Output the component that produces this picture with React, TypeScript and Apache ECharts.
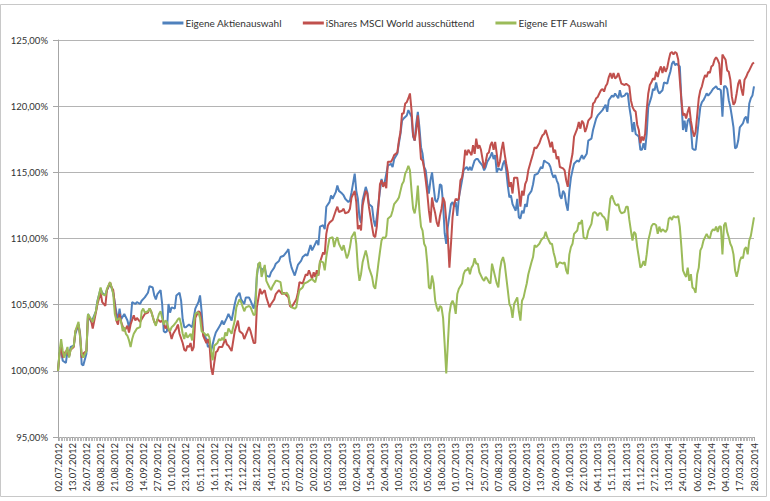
import React, { useEffect, useRef } from "react";
import * as echarts from "echarts";

const seriesNames = ["Eigene Aktienauswahl", "iShares MSCI World ausschüttend", "Eigene ETF Auswahl"];
const seriesColors = ["#4F81BD", "#C0504D", "#9BBB59"];

const xTickLabels = [
  "02.07.2012", "13.07.2012", "26.07.2012", "08.08.2012", "21.08.2012", "03.09.2012", "14.09.2012",
  "27.09.2012", "10.10.2012", "23.10.2012", "05.11.2012", "16.11.2012", "29.11.2012", "12.12.2012",
  "28.12.2012", "14.01.2013", "25.01.2013", "07.02.2013", "20.02.2013", "05.03.2013", "18.03.2013",
  "02.04.2013", "15.04.2013", "26.04.2013", "10.05.2013", "23.05.2013", "05.06.2013", "18.06.2013",
  "01.07.2013", "12.07.2013", "25.07.2013", "07.08.2013", "20.08.2013", "02.09.2013", "13.09.2013",
  "26.09.2013", "09.10.2013", "22.10.2013", "04.11.2013", "15.11.2013", "28.11.2013", "11.12.2013",
  "27.12.2013", "13.01.2014", "24.01.2014", "06.02.2014", "19.02.2014", "04.03.2014", "17.03.2014",
  "28.03.2014",
];

// [trading-day index, value in %]
const aktienauswahl: [number, number][] = [
  [0,100],[1,101.4],[2,101.5],[3,100.76],[5,100.6],[6,101.5],[7,101.06],[8,101.8],[10,101.9],[11,102.8],[13,103.5],[14,102.8],[15,100.5],[16,100.4],[18,101.3],[19,104.3],[21,103.7],[22,103.9],[24,104.5],[25,105.3],[27,106.2],[28,105.9],[30,105.7],[31,106.1],[33,106.6],[35,105.9],[37,104.4],[38,103.8],[39,104.7],[40,103.9],[42,104.3],[44,103.8],[45,103.3],[46,103.8],[47,105.2],[49,105.05],[50,105.2],[52,105.05],[53,105.3],[55,105.55],[57,105.9],[58,106.4],[60,106.3],[61,105.7],[62,105.4],[63,105.8],[65,106.1],[66,105.05],[67,103.0],[68,102.9],[69,103.0],[70,105.05],[71,104.4],[72,104.8],[74,104.7],[75,105.7],[77,105.9],[78,105.3],[79,103.9],[80,103.3],[81,103.3],[83,103.5],[85,103.3],[86,104.0],[87,104.7],[89,105.2],[90,105.7],[91,104.5],[92,102.8],[94,102.4],[95,101.8],[96,101.9],[97,101.5],[99,102.5],[100,102.9],[102,103.3],[103,103.5],[104,103.8],[105,103.5],[107,104.0],
  [108,104.3],[110,103.8],[112,105.05],[113,105.55],[115,105.9],[116,105.4],[118,105.05],[119,105.55],[121,105.55],[122,105.3],[124,104.7],[125,105.3],[126,107.1],[127,108.1],[129,107.6],[131,107.8],[132,107.2],[134,107.1],[135,107.45],[137,107.8],[138,108.1],[140,108.3],[141,108.6],[143,108.7],[145,109.0],[146,109.2],[147,108.3],[148,107.8],[150,107.2],[151,107.6],[152,108.0],[154,108.3],[155,108.6],[157,108.8],[158,108.7],[160,109.5],[161,109.1],[162,109.35],[164,109.85],[165,109.5],[166,110.9],[168,111.0],[169,110.7],[170,112.4],[172,112.75],[173,113.25],[174,113.0],[176,113.5],[177,114.0],[178,113.6],[180,113.4],[181,113.25],[182,113.0],[184,112.75],[185,112.9],[186,113.5],[188,114.9],[189,113.6],[190,113.0],[191,111.6],[192,111.2],[193,112.9],[195,113.9],[196,113.5],[197,112.6],[199,112.4],[200,111.4],[201,110.9],[202,111.6],[203,112.6],[204,113.6],[205,114.5],[206,114.0],[207,114.25],[209,115.5],[211,115.65],[212,115.4],[213,116.0],[215,116.4],[216,117.2],[217,117.9],[218,118.9],
  [219,119.07],[221,119.3],[222,119.7],[224,119.2],[225,117.7],[226,117.4],[227,118.7],[228,119.57],[229,118.4],[230,116.9],[231,116.4],[232,115.4],[233,115.15],[234,114.1],[235,113.4],[236,114.4],[237,115.0],[238,113.9],[239,112.9],[240,112.75],[241,113.1],[242,114.1],[243,114.0],[244,112.6],[245,110.4],[246,109.6],[247,110.9],[249,112.6],[250,112.75],[251,112.4],[252,112.75],[253,111.7],[254,113.1],[256,114.4],[257,115.15],[258,115.3],[259,115.4],[260,115.15],[261,115.4],[262,115.15],[264,115.9],[265,116.0],[266,116.0],[267,115.8],[269,115.5],[270,115.15],[271,115.4],[272,115.8],[274,116.2],[275,116.5],[276,116.0],[277,116.3],[278,115.0],[279,115.3],[281,115.15],[282,115.65],[283,115.9],[284,115.15],[285,114.0],[286,113.1],[287,113.25],[288,112.6],[290,112.1],[291,113.0],[292,111.6],[293,111.5],[294,112.1],[295,111.9],[296,112.6],[297,112.4],[298,113.25],[300,113.6],[301,114.1],[302,114.8],[304,114.9],[305,115.15],[306,115.4],[307,115.3],[308,115.9],[309,115.8],[311,115.65],[312,115.4],[313,114.9],[314,114.6],[315,114.8],[316,114.4],[317,114.1],[318,113.25],[319,113.0],[320,113.6],[321,113.4],[322,112.6],[323,112.1],[324,113.6],[325,114.6],[326,115.15],[327,115.65],[329,115.9],
  [330,115.8],[332,116.3],[333,116.0],[335,116.4],[336,117.4],[338,117.55],[339,118.2],[341,119.07],[342,119.3],[344,119.57],[345,119.7],[347,120.1],[348,119.57],[349,120.45],[351,120.8],[352,120.7],[353,120.96],[355,120.6],[356,121.2],[357,120.7],[359,120.8],[360,120.96],[361,120.96],[362,119.95],[363,119.2],[364,118.05],[365,118.8],[366,117.9],[368,117.7],[369,116.7],[370,116.7],[371,117.2],[372,116.7],[373,117.9],[374,119.95],[376,120.7],[377,121.3],[378,121.2],[379,121.8],[380,121.2],[381,120.96],[383,121.2],[384,121.8],[386,121.7],[387,122.2],[388,122.6],[389,123.2],[390,123.4],[391,123.1],[392,123.2],[394,123.0],[395,120.45],[396,118.2],[397,118.9],[398,118.05],[399,118.9],[400,119.07],[401,118.4],[402,116.8],[403,116.7],[404,116.7],[405,117.8],[406,118.9],[407,119.95],[408,120.3],[409,120.45],[410,120.7],[411,120.96],[412,120.8],[414,121.1],[415,121.3],[417,121.5],[418,121.3],[419,121.3],[420,121.2],[421,119.2],[422,121.5],[423,121.5],[424,121.3],[425,120.45],[426,119.95],[427,119.2],[428,118.4],[429,116.8],[430,116.9],[431,117.4],[432,118.4],[434,118.7],[435,119.07],[436,119.2],[437,118.7],[438,120.2],[439,120.6],[440,120.8],[441,121.5],
];

const msciWorld: [number, number][] = [
  [0,100],[1,101.3],[2,101.8],[3,101.0],[5,101.5],[7,101.1],[8,101.6],[10,101.8],[11,103.0],[13,103.5],[14,102.65],[15,101.0],[16,101.3],[18,101.5],[19,104.2],[21,103.8],[22,103.2],[24,104.4],[25,105.05],[27,105.9],[28,105.2],[30,104.9],[31,106.1],[33,106.7],[34,106.3],[35,106.1],[37,103.8],[38,103.5],[39,104.3],[40,103.7],[42,103.0],[44,103.4],[45,102.9],[46,103.5],[48,104.2],[49,103.8],[50,104.0],[52,103.7],[53,103.9],[55,104.3],[57,104.4],[58,104.7],[59,104.5],[61,103.7],[62,103.5],[63,103.9],[65,103.7],[66,103.8],[67,103.7],[68,103.2],[69,103.4],[71,102.9],[72,102.4],[73,102.8],[75,103.2],[76,103.5],[77,102.8],[79,102.1],[80,101.6],[81,101.5],[82,101.9],[83,101.8],[84,102.1],[85,101.5],[86,101.8],[87,104.0],[89,104.5],[90,104.4],[91,103.7],[92,102.65],[94,102.1],[95,102.4],[96,102.0],[97,100.25],[98,99.7],[99,100.6],[100,101.4],[101,101.5],[102,101.8],[104,101.8],[105,102.1],[106,102.4],[107,102.0],
  [108,101.9],[110,101.5],[112,103.0],[114,103.8],[115,103.0],[117,102.8],[118,102.4],[120,103.0],[121,103.3],[122,103.0],[124,102.1],[125,102.1],[126,104.8],[128,106.2],[129,105.8],[131,106.1],[132,105.55],[134,104.8],[135,105.05],[137,105.4],[138,105.8],[140,106.1],[142,105.8],[143,105.9],[144,105.8],[146,105.55],[147,104.9],[148,104.8],[150,105.2],[151,105.4],[152,105.9],[153,106.7],[155,106.6],[157,107.3],[158,107.2],[159,107.6],[161,106.95],[162,107.45],[163,107.1],[164,107.6],[165,107.2],[166,108.2],[168,108.95],[169,108.8],[170,110.35],[171,110.98],[172,111.2],[174,111.4],[176,112.1],[177,112.4],[178,112.0],[180,112.1],[181,112.25],[182,111.9],[184,112.0],[185,112.25],[186,113.1],[188,113.6],[189,112.75],[190,110.7],[191,111.0],[192,110.6],[193,112.5],[195,113.6],[196,113.4],[197,112.4],[199,110.9],[200,110.2],[201,110.1],[202,110.9],[203,112.4],[204,114.1],[205,114.4],[206,113.9],[207,114.25],[208,113.8],[209,115.8],[211,115.8],[212,116.0],[213,116.3],[215,116.5],[216,117.4],[217,118.05],[218,119.45],
  [219,119.45],[220,120.2],[221,120.3],[222,120.6],[223,120.96],[224,119.7],[225,117.8],[226,117.4],[227,118.2],[228,119.3],[229,117.7],[230,116.0],[231,115.9],[232,115.3],[233,114.4],[234,113.4],[235,112.1],[236,111.2],[237,113.1],[238,112.4],[239,111.9],[240,111.2],[241,110.9],[242,111.7],[243,112.25],[244,113.1],[245,112.75],[246,111.4],[247,110.1],[248,107.8],[249,109.6],[250,111.6],[251,112.6],[252,113.0],[253,112.9],[254,113.0],[255,114.4],[256,114.6],[257,115.4],[258,116.7],[259,116.3],[260,116.7],[261,116.5],[262,116.3],[263,117.05],[264,116.4],[265,117.55],[266,116.8],[267,117.05],[268,116.7],[269,116.0],[270,115.3],[271,115.8],[272,116.4],[273,116.5],[274,117.05],[275,117.3],[276,116.7],[277,117.3],[278,116.4],[279,115.4],[280,115.8],[281,116.7],[282,117.3],[283,116.4],[284,115.65],[285,115.0],[286,113.9],[287,114.25],[288,113.4],[289,114.6],[291,114.6],[292,113.6],[293,112.4],[294,113.6],[295,113.25],[296,114.1],[297,114.4],[298,115.15],[300,116.0],[301,116.4],[302,116.9],[303,116.8],[305,117.2],[306,117.55],[307,117.8],[308,117.9],[309,118.2],[310,117.8],[311,117.4],[312,116.9],[313,117.3],[314,116.5],[315,116.7],[316,116.0],[317,116.2],[318,115.4],[320,115.3],[321,115.15],[322,114.4],[323,113.9],[324,115.15],[325,115.8],[326,116.4],[327,117.7],[329,118.3],
  [330,118.8],[331,118.3],[332,118.9],[333,118.7],[334,118.05],[335,118.4],[336,118.9],[338,119.2],[339,120.2],[340,120.3],[341,120.6],[342,120.7],[343,120.96],[344,121.2],[345,121.3],[346,121.1],[347,121.5],[348,121.7],[349,122.2],[350,122.5],[351,122.1],[352,122.5],[353,122.1],[354,122.2],[355,122.5],[356,122.1],[357,121.7],[359,121.6],[360,121.7],[361,121.6],[362,121.5],[363,120.45],[364,119.95],[365,119.7],[366,119.6],[367,118.6],[368,118.2],[369,117.2],[370,117.7],[371,117.4],[372,117.9],[373,119.7],[374,120.96],[375,121.6],[376,121.8],[377,122.1],[378,122.0],[379,122.6],[380,122.2],[381,122.7],[382,123.0],[383,122.5],[384,123.0],[385,122.6],[386,122.9],[387,123.5],[388,124.0],[389,124.1],[390,123.9],[391,124.1],[392,124.0],[393,123.5],[395,120.45],[396,119.3],[397,119.45],[398,119.07],[399,119.57],[400,119.95],[401,118.9],[402,118.2],[403,117.7],[404,118.05],[405,119.3],[406,120.6],[407,121.2],[408,121.5],[409,122.0],[410,122.35],[411,122.2],[412,122.6],[413,122.5],[414,123.0],[415,123.1],[416,123.5],[417,123.7],[418,123.5],[419,123.2],[420,121.6],[421,123.9],[422,123.7],[423,123.5],[424,122.7],[425,122.6],[426,122.0],[427,120.7],[428,120.1],[429,120.3],[430,120.96],[431,121.7],[432,122.0],[433,121.3],[434,120.8],[435,122.0],[436,122.2],[437,122.5],[438,122.7],[440,123.2],[441,123.3],
];

const etfAuswahl: [number, number][] = [
  [0,100],[1,101.5],[2,102.4],[3,101.5],[4,101.0],[6,101.8],[7,101.0],[8,101.6],[10,101.9],[11,103.0],[13,103.7],[14,102.5],[15,101.3],[16,101.0],[18,101.5],[19,104.3],[21,103.9],[22,103.7],[24,104.5],[25,105.2],[27,106.3],[28,105.8],[30,105.7],[31,106.2],[33,106.7],[34,106.3],[35,105.8],[36,104.3],[37,103.8],[39,104.0],[40,103.7],[41,103.0],[42,103.3],[43,102.8],[44,102.65],[45,102.3],[46,101.8],[47,102.4],[48,102.8],[49,103.0],[50,103.2],[52,103.3],[53,104.5],[54,104.7],[55,104.4],[57,104.5],[58,104.7],[59,104.5],[61,103.7],[62,103.4],[63,103.9],[64,104.3],[65,104.5],[66,104.0],[67,103.5],[68,103.8],[69,103.7],[70,103.2],[71,103.0],[72,103.3],[73,103.4],[75,103.7],[76,103.9],[77,104.0],[78,103.5],[79,102.8],[80,102.4],[81,102.9],[82,102.5],[83,102.65],[84,102.8],[85,102.3],[86,103.5],[87,104.3],[88,104.4],[89,104.4],[90,104.0],[91,103.0],[93,102.8],[94,102.65],[95,102.8],[96,102.5],[97,101.5],[98,100.8],[99,101.9],[100,102.0],[101,102.1],[102,102.4],[103,102.3],[104,102.5],[105,102.3],[106,102.9],[107,102.65],
  [108,103.2],[110,102.8],[112,103.8],[113,104.8],[115,105.4],[116,105.2],[118,104.5],[119,104.8],[121,104.9],[122,104.8],[124,104.2],[125,104.3],[126,107.3],[127,108.1],[128,108.2],[129,107.1],[131,108.0],[132,106.8],[134,106.3],[135,106.1],[136,106.4],[138,106.8],[139,106.8],[141,106.7],[142,105.9],[143,105.8],[145,105.9],[146,105.7],[147,105.05],[148,104.8],[150,104.7],[151,104.8],[152,105.55],[153,106.1],[155,106.3],[156,106.6],[158,106.7],[159,106.8],[161,106.95],[162,106.8],[163,106.7],[164,107.2],[165,107.3],[166,108.3],[168,108.2],[169,107.6],[170,108.6],[171,109.35],[172,110.0],[174,110.1],[175,109.35],[176,109.85],[177,110.1],[178,109.6],[180,109.1],[181,109.5],[183,108.5],[184,108.8],[185,109.35],[186,110.1],[188,110.5],[189,109.6],[190,107.8],[191,106.8],[192,107.3],[193,108.2],[195,109.1],[196,108.6],[197,107.8],[199,107.1],[200,106.4],[201,106.2],[202,107.1],[203,108.1],[204,109.0],[205,109.85],[206,110.1],[207,110.0],[208,110.2],[209,111.5],[211,111.7],[212,112.1],[213,112.6],[215,112.9],[216,113.1],[217,113.6],[218,114.1],
  [219,114.3],[220,114.9],[221,115.15],[222,115.5],[223,115.15],[224,113.6],[225,112.25],[226,111.9],[227,112.6],[228,114.0],[229,112.1],[230,110.9],[231,110.6],[232,109.6],[233,109.35],[234,108.1],[235,106.3],[236,106.2],[237,107.2],[238,106.6],[239,105.3],[240,104.8],[241,104.5],[242,104.9],[243,104.8],[244,104.0],[245,102.0],[246,99.8],[247,102.0],[248,104.3],[249,105.05],[250,105.3],[251,105.0],[252,104.3],[253,105.8],[254,106.2],[256,106.6],[257,107.3],[258,107.6],[259,107.6],[260,107.8],[261,107.3],[262,107.8],[263,108.0],[264,108.5],[265,108.1],[266,108.1],[267,107.45],[269,106.95],[270,106.8],[271,107.1],[272,106.95],[273,106.7],[274,106.6],[275,108.1],[276,107.6],[277,107.1],[278,106.6],[279,106.3],[280,107.6],[281,108.3],[282,108.6],[283,108.1],[284,107.1],[285,106.1],[286,105.05],[287,104.8],[288,104.0],[289,105.05],[291,105.55],[292,104.5],[293,103.8],[294,105.3],[295,105.55],[296,106.1],[297,106.6],[298,107.3],[300,108.2],[301,108.6],[302,109.5],[303,109.35],[305,109.6],[306,109.85],[307,110.0],[308,110.1],[309,110.5],[310,110.1],[311,109.85],[312,109.6],[313,109.6],[314,108.95],[315,108.5],[316,107.8],[317,108.1],[318,108.2],[320,108.1],[321,108.2],[322,107.6],[323,107.3],[324,108.8],[325,109.35],[326,109.6],[327,110.35],[329,110.6],
  [330,111.2],[331,111.1],[332,111.4],[333,110.1],[334,110.0],[335,110.0],[336,110.6],[338,111.1],[339,111.9],[340,112.0],[341,111.9],[342,111.7],[343,111.9],[344,111.9],[345,111.7],[346,111.6],[347,111.4],[348,110.6],[349,111.9],[350,113.0],[351,113.25],[352,112.9],[353,112.6],[354,112.5],[355,112.6],[356,112.1],[357,111.9],[359,112.0],[360,112.4],[361,112.4],[362,111.4],[363,110.6],[364,109.85],[365,110.5],[366,110.35],[367,109.35],[368,108.6],[369,107.8],[370,107.95],[371,108.3],[372,107.95],[373,108.8],[374,109.85],[375,110.35],[376,110.9],[377,111.1],[378,111.1],[379,111.0],[380,110.35],[381,110.9],[382,110.5],[383,110.7],[385,110.5],[386,110.7],[387,111.5],[388,111.6],[389,111.4],[390,111.7],[391,111.6],[392,111.6],[393,111.7],[394,110.9],[395,109.35],[396,107.6],[397,107.3],[398,107.1],[399,107.8],[400,106.8],[401,107.3],[402,106.3],[403,106.2],[404,105.9],[405,107.3],[406,107.8],[407,109.1],[408,109.35],[409,109.85],[410,110.1],[411,110.35],[412,110.1],[413,110.0],[414,110.5],[415,110.7],[416,110.6],[417,110.9],[418,110.5],[419,110.9],[420,110.9],[421,108.8],[422,111.0],[423,111.2],[424,110.5],[425,110.1],[426,109.6],[427,109.35],[428,108.8],[429,107.6],[430,107.1],[431,107.6],[432,108.3],[433,108.6],[434,108.5],[435,109.2],[436,109.35],[437,108.8],[438,109.85],[439,110.2],[440,110.9],[441,111.6],
];

const FONT = "Lato, 'Noto Sans', sans-serif";

export default function App() {
  const ref = useRef<HTMLDivElement>(null);

  useEffect(() => {
    document.body.style.margin = "0";
    if (!ref.current) return;
    const chart = echarts.init(ref.current, undefined, { renderer: "svg" });
    const allData = [aktienauswahl, msciWorld, etfAuswahl];
    chart.setOption({
      animation: false,
      backgroundColor: "#ffffff",
      textStyle: { fontFamily: FONT },
      graphic: [
        {
          type: "rect",
          shape: { x: 0.5, y: 4.5, width: 766, height: 492 },
          style: { fill: "none", stroke: "#C8C8C8", lineWidth: 1 },
          silent: true,
        },
      ],
      legend: {
        top: 13,
        left: "center",
        itemGap: 21,
        itemWidth: 21,
        itemHeight: 3,
        icon: "rect",
        textStyle: { fontFamily: FONT, fontSize: 10, color: "#333333", padding: [0, 0, 0, -3] },
        data: seriesNames,
      },
      grid: { left: 58, right: 16, top: 40, bottom: 64, containLabel: false },
      xAxis: {
        type: "value",
        min: 0,
        max: 441,
        interval: 9,
        axisLine: { show: true, lineStyle: { color: "#A6A6A6", width: 1 } },
        axisTick: { show: true, length: 4, lineStyle: { color: "#A6A6A6" } },
        minorTick: { show: true, splitNumber: 9, length: 4, lineStyle: { color: "#B8B8B8" } },
        splitLine: { show: false },
        axisLabel: {
          rotate: 90,
          margin: 6,
          fontFamily: FONT,
          fontSize: 9.5,
          color: "#333333",
          showMinLabel: true,
          showMaxLabel: true,
          formatter: (v: number) => xTickLabels[Math.round(v / 9)] ?? "",
        },
      },
      yAxis: {
        type: "value",
        min: 95,
        max: 125,
        interval: 5,
        axisLine: { show: true, lineStyle: { color: "#A6A6A6", width: 1 } },
        axisTick: { show: true, length: 5, lineStyle: { color: "#A6A6A6" } },
        splitLine: { show: true, lineStyle: { color: "#B4B4B4", width: 1 } },
        axisLabel: {
          margin: 10,
          fontFamily: FONT,
          fontSize: 9.5,
          color: "#333333",
          formatter: (v: number) => v.toFixed(2).replace(".", ",") + "%",
        },
      },
      series: seriesNames.map((name, i) => ({
        name,
        type: "line",
        data: allData[i],
        showSymbol: false,
        symbol: "none",
        color: seriesColors[i],
        lineStyle: { width: 2, color: seriesColors[i] },
        emphasis: { disabled: true },
      })),
    });
    return () => chart.dispose();
  }, []);

  return <div ref={ref} style={{ width: 770, height: 501, position: "absolute", left: 0, top: 0 }} />;
}
